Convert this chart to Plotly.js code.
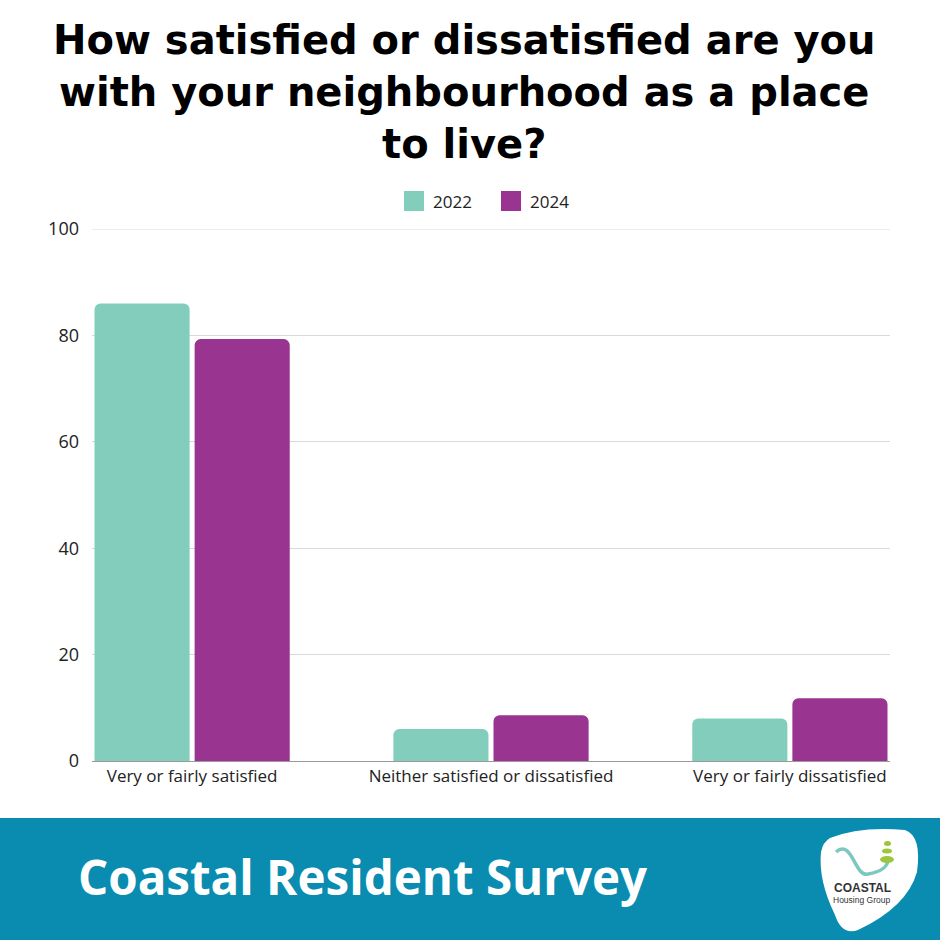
<!DOCTYPE html>
<html>
<head>
<meta charset="utf-8">
<script src="https://cdn.plot.ly/plotly-3.0.1.min.js"></script>
<style>html,body{margin:0;padding:0;background:#fff;}#chart{width:940px;height:940px;}</style>
</head>
<body>
<div id="chart"></div>
<script>
const categories = ["Very or fairly satisfied", "Neither satisfied or dissatisfied", "Very or fairly dissatisfied"];
const seriesNames = ["2022", "2024"];
const values2022 = [86, 6, 8];
const values2024 = [79.3, 8.6, 11.8];
const yTicks = [0, 20, 40, 60, 80, 100];
const titleLines = ["How satisfied or dissatisfied are you", "with your neighbourhood as a place", "to live?"];
const bannerText = "Coastal Resident Survey";

// pixel -> paper helpers (plot area: x 92..890, y 229..761)
const L = 92, R = 890, T = 229, B = 761;
const px = x => (x - L) / (R - L);
const py = y => (B - y) / (B - T);

const teal = "#82CDBB", purple = "#993590", banner = "#0A8CB0";
const colors = [teal, purple];

const traces = [
  {type: "bar", name: seriesNames[0], x: categories, y: values2022, marker: {color: teal}},
  {type: "bar", name: seriesNames[1], x: categories, y: values2024, marker: {color: purple}}
];

const font = "'Open Sans', sans-serif";

const annotations = [{
  text: "<b>" + titleLines.join("<br>") + "</b>", xref: "paper", yref: "paper", x: px(464), y: py(92),
  xanchor: "center", yanchor: "middle", showarrow: false, align: "center",
  font: {family: "'DejaVu Sans', sans-serif", size: 40, color: "#000"}
}];
annotations.push({
  text: "<b>" + bannerText + "</b>", xref: "paper", yref: "paper", x: px(76), y: py(876),
  xanchor: "left", yanchor: "middle", showarrow: false,
  font: {family: font, size: 47.5, color: "#fff"}
});
annotations.push({
  text: "<b>COASTAL</b>", xref: "paper", yref: "paper", x: px(862), y: py(888),
  xanchor: "center", yanchor: "middle", showarrow: false,
  font: {family: "'Liberation Sans', sans-serif", size: 12, color: "#333"}
});
annotations.push({
  text: "Housing Group", xref: "paper", yref: "paper", x: px(861), y: py(900),
  xanchor: "center", yanchor: "middle", showarrow: false,
  font: {family: "'Liberation Sans', sans-serif", size: 8.5, color: "#333"}
});
// custom legend text
const legendX = [404, 501];
seriesNames.forEach((n, i) => annotations.push({
  text: n, xref: "paper", yref: "paper", x: px(legendX[i] + 27), y: py(201),
  xanchor: "left", yanchor: "middle", showarrow: false,
  font: {family: font, size: 17, color: "#222"}
}));

const P = (x, y) => px(x) + "," + py(y);
const blob = "M" + P(830, 838) + " Q" + P(860, 826) + " " + P(905, 830) +
  " Q" + P(922, 836) + " " + P(917, 872) + " Q" + P(907, 907) + " " + P(858, 930) +
  " Q" + P(842, 936) + " " + P(835, 915) + " Q" + P(818, 880) + " " + P(821, 852) +
  " Q" + P(823, 842) + " " + P(830, 838) + " Z";
const wave = "M" + P(836, 852) + " C" + P(852, 838) + " " + P(855, 878) + " " + P(868, 874) +
  " C" + P(880, 872) + " " + P(889, 868) + " " + P(888, 857);

const shapes = [
  {type: "rect", xref: "paper", yref: "paper", x0: px(0), x1: px(940), y0: py(818), y1: py(940),
   fillcolor: banner, line: {width: 0}, layer: "below"},
  {type: "line", xref: "paper", yref: "y", x0: 0, x1: 1, y0: 100, y1: 100, line: {color: "#d9d9d9", width: 1}, layer: "below"},
  {type: "path", xref: "paper", yref: "paper", path: blob, fillcolor: "#fff", line: {width: 0}},
  {type: "path", xref: "paper", yref: "paper", path: wave, line: {color: "#7CC8BE", width: 3.5}},
  {type: "circle", xref: "paper", yref: "paper", x0: px(884), x1: px(891), y0: py(841), y1: py(846), fillcolor: "#9CC63B", line: {width: 0}},
  {type: "circle", xref: "paper", yref: "paper", x0: px(882), x1: px(892), y0: py(848.5), y1: py(853.5), fillcolor: "#9CC63B", line: {width: 0}},
  {type: "circle", xref: "paper", yref: "paper", x0: px(880), x1: px(894), y0: py(856), y1: py(863), fillcolor: "#9CC63B", line: {width: 0}}
];
seriesNames.forEach((n, i) => shapes.push({
  type: "rect", xref: "paper", yref: "paper", x0: px(legendX[i]), x1: px(legendX[i] + 20),
  y0: py(191), y1: py(211), fillcolor: colors[i], line: {width: 0}
}));

const layout = {
  width: 940, height: 940,
  paper_bgcolor: "#fff", plot_bgcolor: "#fff",
  margin: {l: L, r: 940 - R, t: T, b: 940 - B, pad: 0},
  font: {family: font, color: "#333", size: 15},
  barmode: "group", bargap: 0.33, bargroupgap: 0.05, barcornerradius: 6,
  showlegend: false,
  xaxis: {type: "category", range: [-0.335, 2.335], showgrid: false, zeroline: false,
          showline: true, linecolor: "#9a9a9a", linewidth: 1, ticks: "",
          tickfont: {family: font, size: 17, color: "#222"}, fixedrange: true},
  yaxis: {range: [0, 100], tickvals: yTicks, showgrid: true, gridcolor: "#d9d9d9", gridwidth: 1,
          zeroline: false, showline: false, ticks: "", ticklabelstandoff: 12,
          tickfont: {family: font, size: 18, color: "#222"}, fixedrange: true},
  annotations: annotations,
  shapes: shapes
};

Plotly.newPlot("chart", traces, layout, {displayModeBar: false, staticPlot: true});
</script>
</body>
</html>
